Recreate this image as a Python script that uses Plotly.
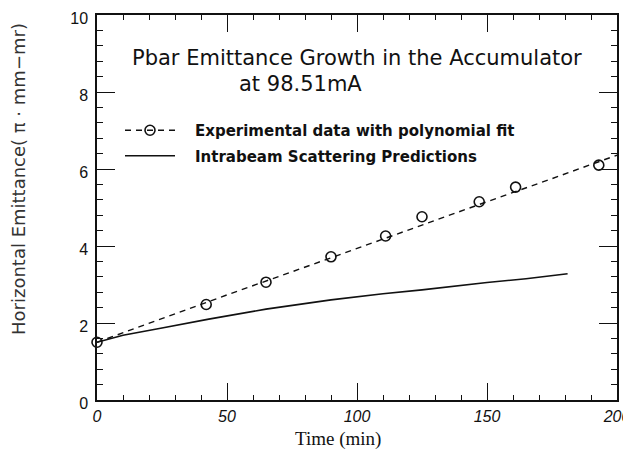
import plotly.graph_objects as go

# ---- data ----
exp_time = [0, 42, 65, 90, 111, 125, 147, 161, 193]
exp_emit = [1.5, 2.48, 3.06, 3.72, 4.26, 4.76, 5.15, 5.53, 6.1]

fit_time = [0, 25, 50, 75, 100, 125, 150, 175, 200]
fit_emit = [1.5, 2.12, 2.73, 3.33, 3.93, 4.53, 5.15, 5.75, 6.36]

ibs_time = [0, 10, 25, 43, 65, 90, 110, 125, 150, 165, 181]
ibs_emit = [1.5, 1.68, 1.87, 2.1, 2.36, 2.6, 2.76, 2.86, 3.05, 3.15, 3.28]

x_ticks = [0, 50, 100, 150, 200]
y_ticks = [0, 2, 4, 6, 8, 10]

title_line1 = "Pbar Emittance Growth in the Accumulator"
title_line2 = "at 98.51mA"
legend_exp = "Experimental data with polynomial fit"
legend_ibs = "Intrabeam Scattering Predictions"
x_title = "Time (min)"
y_title = "Horizontal Emittance( \u03c0 \u00b7 mm\u2212mr)"

INK = "#111111"
PAGE_W, PAGE_H = 631, 451
OFF = 8  # default body margin of the html page
W, H = PAGE_W - OFF, PAGE_H - OFF
# plot area in page pixels: x 97..617, y 15..400
L, R, T, B = 97 - OFF, PAGE_W - 617, 15 - OFF, PAGE_H - 400
PAD = "\u2002\u2002"  # gap between legend symbol and its text

fig = go.Figure()

# polynomial fit (dashed)
fig.add_trace(go.Scatter(x=fit_time, y=fit_emit, mode="lines",
                         line=dict(color=INK, width=1.4, dash="6px,5px"),
                         showlegend=False, hoverinfo="skip"))
# experimental points
fig.add_trace(go.Scatter(x=exp_time, y=exp_emit, mode="markers",
                         marker=dict(symbol="circle-open", size=10, color=INK,
                                     line=dict(width=1.6, color=INK)),
                         showlegend=False, cliponaxis=False))
# IBS prediction
fig.add_trace(go.Scatter(x=ibs_time, y=ibs_emit, mode="lines",
                         line=dict(color=INK, width=1.6),
                         showlegend=False))
# legend-only entries
fig.add_trace(go.Scatter(x=[None], y=[None], mode="lines+markers", name=PAD + legend_exp,
                         legendgroup="a",
                         line=dict(color=INK, width=1.4, dash="6px,5px"),
                         marker=dict(symbol="circle-open", size=10, color=INK,
                                     line=dict(width=1.6, color=INK))))
fig.add_trace(go.Scatter(x=[None], y=[None], mode="lines", name=PAD + legend_ibs,
                         legendgroup="b",
                         line=dict(color=INK, width=1.6)))

axis_common = dict(showline=True, linecolor=INK, linewidth=1.5, mirror="allticks",
                   ticks="inside", tickcolor=INK, tickwidth=1.3,
                   showgrid=False, zeroline=False, automargin=False,
                   ticklabeloverflow="allow")

fig.update_xaxes(range=[0, 200], tickvals=x_ticks, ticklen=17,
                 tickfont=dict(family="Liberation Sans", size=16, color=INK, style="italic"),
                 minor=dict(dtick=10, ticklen=5, ticks="inside", tickcolor=INK, tickwidth=1.1),
                 ticklabelstandoff=1,
                 **axis_common)
fig.update_yaxes(range=[0, 10], tickvals=y_ticks, ticklen=18,
                 tickfont=dict(family="Liberation Sans", size=16, color=INK),
                 minor=dict(dtick=0.4, ticklen=6, ticks="inside", tickcolor=INK, tickwidth=1.1),
                 ticklabelstandoff=4, ticklabelshift=3,
                 **axis_common)

def px_x(page_x):
    return (page_x - OFF - L) / (W - L - R)

def px_y(page_y):
    return 1 - (page_y - OFF - T) / (H - T - B)

fig.add_annotation(text=title_line1, xref="paper", yref="paper",
                   x=px_x(357), y=px_y(58), xanchor="center", yanchor="middle",
                   showarrow=False, font=dict(family="DejaVu Sans", size=21, color=INK))
fig.add_annotation(text=title_line2, xref="paper", yref="paper",
                   x=px_x(300), y=px_y(84), xanchor="center", yanchor="middle",
                   showarrow=False, font=dict(family="DejaVu Sans", size=21, color=INK))
fig.add_annotation(text=x_title, xref="paper", yref="paper",
                   x=px_x(338), y=px_y(439), xanchor="center", yanchor="middle",
                   showarrow=False, font=dict(family="Liberation Serif", size=19, color=INK))
fig.add_annotation(text=y_title, xref="paper", yref="paper", textangle=-90,
                   x=px_x(19), y=px_y(179), xanchor="center", yanchor="middle",
                   showarrow=False, font=dict(family="DejaVu Sans", size=18, color="#333333"))

fig.update_layout(
    width=W, height=H,
    margin=dict(l=L, r=R, t=T, b=B, autoexpand=False),
    paper_bgcolor="white", plot_bgcolor="white",
    legend=dict(x=px_x(120), y=px_y(114), xanchor="left", yanchor="top",
                bgcolor="rgba(0,0,0,0)", borderwidth=0, itemwidth=50,
                traceorder="grouped", tracegroupgap=3,
                font=dict(family="DejaVu Sans", size=15, color=INK, weight="bold")),
)

fig.write_html("out.html")
